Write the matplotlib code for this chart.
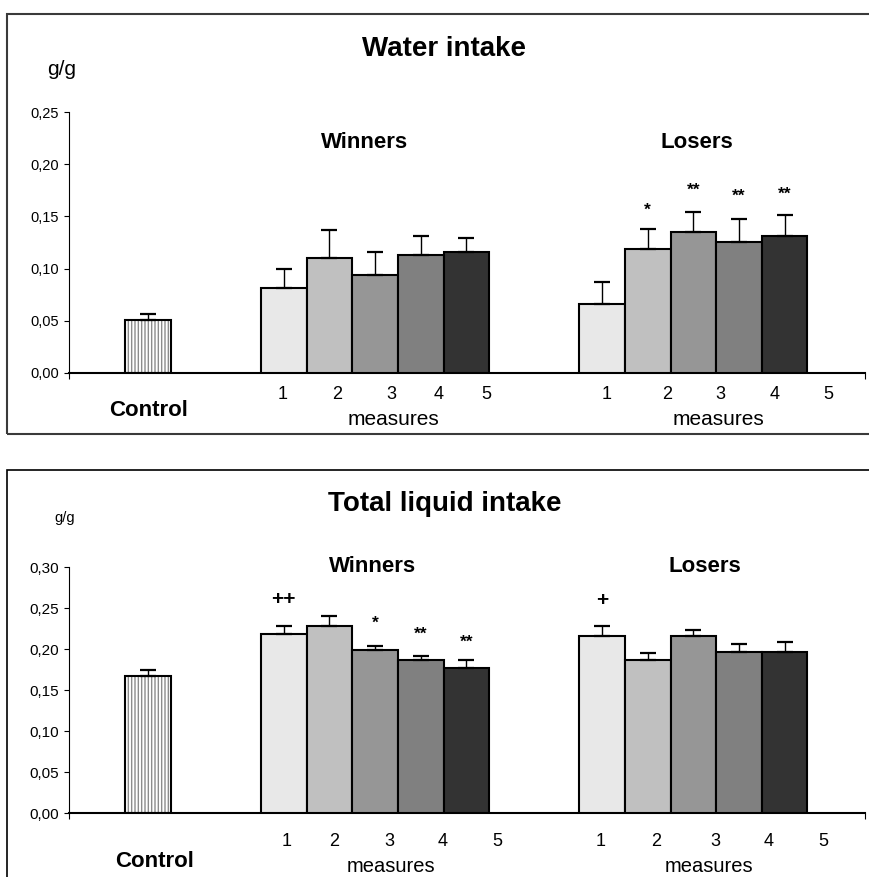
import matplotlib
matplotlib.use('Agg')
import matplotlib.pyplot as plt
from matplotlib.patches import Rectangle
import numpy as np

plt.rcParams['font.family'] = ['Liberation Sans', 'DejaVu Sans']
plt.rcParams['hatch.linewidth'] = 1.0

#%% data

measures = ['1', '2', '3', '4', '5']
bar_grays = ['#e8e8e8', '#c0c0c0', '#969696', '#808080', '#333333']

# Water intake, g/g
water_control = 0.051
water_control_err = 0.005
water_winners = [0.081, 0.110, 0.094, 0.113, 0.116]
water_winners_err = [0.019, 0.027, 0.022, 0.018, 0.013]
water_losers = [0.066, 0.119, 0.135, 0.125, 0.131]
water_losers_err = [0.021, 0.019, 0.019, 0.023, 0.020]
water_winners_sig = ['', '', '', '', '']
water_winners_sig_y = [0, 0, 0, 0, 0]
water_losers_sig = ['', '*', '**', '**', '**']
water_losers_sig_y = [0, 0.152, 0.171, 0.165, 0.167]

# Total liquid intake, g/g
total_control = 0.168
total_control_err = 0.007
total_winners = [0.219, 0.228, 0.199, 0.187, 0.177]
total_winners_err = [0.010, 0.013, 0.005, 0.005, 0.010]
total_losers = [0.216, 0.187, 0.216, 0.197, 0.197]
total_losers_err = [0.013, 0.008, 0.008, 0.010, 0.012]
total_winners_sig = ['++', '', '*', '**', '**']
total_winners_sig_y = [0.254, 0, 0.226, 0.213, 0.203]
total_losers_sig = ['+', '', '', '', '']
total_losers_sig_y = [0.253, 0, 0, 0, 0]

#%% layout helpers (pixels of the 869x877 picture)

W, H = 869, 877
def fx(px):
    return px / W
def fy(py):
    return 1 - py / H

bw = 45.63                    # bar width in px = 1 x unit
x_max = (865 - 69) / bw
ctrl_left = (125.3 - 69) / bw
win_left = (261 - 69) / bw
los_left = (579.3 - 69) / bw


def draw_panel(ax, ymax, control, control_err, winners, winners_err, losers, losers_err,
               w_sig, w_sig_y, l_sig, l_sig_y, tick_pos, tick_pad, ytick_size):
    # control bar, vertical hatch
    ax.bar(ctrl_left, control, width=1.0, align='edge', color='white',
           edgecolor='#8c8c8c', hatch='|||||', linewidth=0, zorder=2)
    ax.bar(ctrl_left, control, width=1.0, align='edge', fill=False,
           edgecolor='black', linewidth=1.5, zorder=3)
    ax.errorbar(ctrl_left + 0.5, control, yerr=[[0], [control_err]], fmt='none',
                ecolor='black', elinewidth=1.0, capsize=5.5, capthick=1.6, zorder=4)

    for left, vals, errs, sig, sig_y in [(win_left, winners, winners_err, w_sig, w_sig_y),
                                         (los_left, losers, losers_err, l_sig, l_sig_y)]:
        xs = left + np.arange(len(vals))
        ax.bar(xs, vals, width=1.0, align='edge', color=bar_grays,
               edgecolor='black', linewidth=1.5, zorder=3)
        ax.errorbar(xs + 0.5, vals, yerr=[np.zeros(len(vals)), errs], fmt='none',
                    ecolor='black', elinewidth=1.0, capsize=5.5, capthick=1.6, zorder=4)
        for xi, s, sy in zip(xs, sig, sig_y):
            if s:
                fs = 15 if '+' in s else 12.5
                ax.text(xi + 0.5, sy, s, ha='center', va='baseline',
                        fontsize=fs, fontweight='bold')

    ax.set_xlim(0, x_max)
    ax.set_ylim(0, ymax)
    ax.set_yticks(np.arange(0, ymax + 0.001, 0.05))
    ax.set_yticklabels([f'{v:.2f}'.replace('.', ',') for v in np.arange(0, ymax + 0.001, 0.05)])
    ax.tick_params(axis='y', direction='out', length=3.5, width=0.8, pad=3.5,
                   labelsize=ytick_size)

    ax.set_xticks(tick_pos)
    ax.set_xticklabels(measures + measures)
    ax.tick_params(axis='x', which='major', length=0, pad=tick_pad, labelsize=13)
    ax.set_xticks([0, x_max], minor=True)
    ax.tick_params(axis='x', which='minor', direction='out', length=4, width=0.8)

    ax.spines['top'].set_visible(False)
    ax.spines['right'].set_visible(False)
    ax.spines['left'].set_linewidth(0.8)
    ax.spines['bottom'].set_linewidth(1.5)
    ax.patch.set_alpha(0)


fig = plt.figure(figsize=(W / 100, H / 100), dpi=100)

# frames round the two charts
fig.patches.append(Rectangle((fx(7.5), fy(434.5)), 1.0, fy(14) - fy(434.5),
                             transform=fig.transFigure, fill=False,
                             edgecolor='#3a3a3a', linewidth=1.5))
fig.patches.append(Rectangle((fx(7.5), -0.05), 1.0, fy(470) + 0.05,
                             transform=fig.transFigure, fill=False,
                             edgecolor='black', linewidth=1.2))

#%% Water intake

ax1 = fig.add_axes([fx(69), fy(372.7), (865 - 69) / W, 260.4 / H])
ticks_top = [(p - 69) / bw for p in [282.7, 336.7, 391.7, 439, 486.7,
                                      607, 666.9, 720.6, 775, 828]]
draw_panel(ax1, 0.25, water_control, water_control_err, water_winners, water_winners_err,
           water_losers, water_losers_err, water_winners_sig, water_winners_sig_y,
           water_losers_sig, water_losers_sig_y, ticks_top, 9.4, 10.5)

fig.text(fx(444), fy(56), 'Water intake', ha='center', va='baseline',
         fontsize=20, fontweight='bold')
fig.text(fx(62), fy(75), 'g/g', ha='center', va='baseline', fontsize=15)
fig.text(fx(365), fy(147.5), 'Winners', ha='center', va='baseline', fontsize=16, fontweight='bold')
fig.text(fx(697), fy(147.5), 'Losers', ha='center', va='baseline', fontsize=16, fontweight='bold')
fig.text(fx(148.5), fy(416.5), 'Control', ha='center', va='baseline', fontsize=16, fontweight='bold')
fig.text(fx(393), fy(425), 'measures', ha='center', va='baseline', fontsize=15)
fig.text(fx(718), fy(425), 'measures', ha='center', va='baseline', fontsize=15)

#%% Total liquid intake

ax2 = fig.add_axes([fx(69), fy(813.3), (865 - 69) / W, 246 / H])
ticks_bot = [(p - 69) / bw for p in [286.6, 334.3, 389.7, 442.9, 497.8,
                                      600.7, 656, 715, 768.3, 823.3]]
draw_panel(ax2, 0.30, total_control, total_control_err, total_winners, total_winners_err,
           total_losers, total_losers_err, total_winners_sig, total_winners_sig_y,
           total_losers_sig, total_losers_sig_y, ticks_bot, 14.4, 11)

fig.text(fx(445), fy(511), 'Total liquid intake', ha='center', va='baseline',
         fontsize=20, fontweight='bold')
fig.text(fx(65), fy(522), 'g/g', ha='center', va='baseline', fontsize=10.5)
fig.text(fx(373), fy(572.5), 'Winners', ha='center', va='baseline', fontsize=16, fontweight='bold')
fig.text(fx(705), fy(572.5), 'Losers', ha='center', va='baseline', fontsize=16, fontweight='bold')
fig.text(fx(154.5), fy(867), 'Control', ha='center', va='baseline', fontsize=16, fontweight='bold')
fig.text(fx(391), fy(872), 'measures', ha='center', va='baseline', fontsize=14.5)
fig.text(fx(709), fy(872), 'measures', ha='center', va='baseline', fontsize=14.5)

fig.savefig('out.png', dpi=100)
